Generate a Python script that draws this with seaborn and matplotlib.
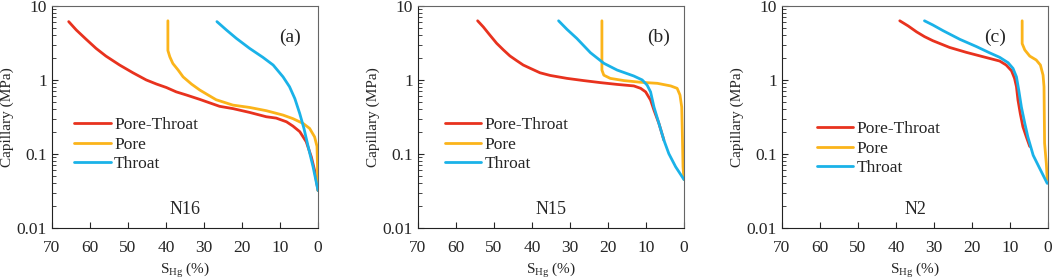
import matplotlib
matplotlib.use('Agg')

import matplotlib.pyplot as plt
import pandas as pd
import seaborn as sns

# saturation (%) and capillary pressure (MPa)
n16_pt_s = [65.6, 63.6, 61.0, 58.4, 55.8, 52.2, 48.7, 45.2, 42.5, 39.9, 37.3, 34.6, 31.1, 28.5, 25.9, 22.4, 18.0, 13.6, 11.0, 8.3, 6.6, 4.8, 3.1, 1.75, 0.9, 0.0]
n16_pt_p = [6.14, 4.73, 3.54, 2.67, 2.10, 1.59, 1.25, 1.0, 0.88, 0.79, 0.69, 0.625, 0.546, 0.49, 0.44, 0.41, 0.364, 0.318, 0.305, 0.272, 0.238, 0.20, 0.146, 0.091, 0.06, 0.032]
n16_pore_s = [39.5, 39.5, 39.0, 38.2, 36.8, 35.5, 33.3, 31.1, 28.9, 26.8, 22.4, 18.0, 13.6, 9.2, 6.6, 3.9, 2.2, 0.9, 0.26, 0.0]
n16_pore_p = [6.3, 2.5, 2.06, 1.67, 1.36, 1.1, 0.88, 0.73, 0.625, 0.54, 0.457, 0.425, 0.384, 0.335, 0.30, 0.258, 0.221, 0.17, 0.126, 0.032]
n16_throat_s = [26.6, 24.1, 21.5, 18.0, 14.5, 11.8, 9.2, 7.5, 6.1, 4.8, 3.7, 2.6, 1.3, 0.0]
n16_throat_p = [6.14, 4.73, 3.65, 2.67, 2.02, 1.59, 1.1, 0.81, 0.56, 0.35, 0.221, 0.126, 0.067, 0.032]

n15_pt_s = [54.3, 52.8, 51.1, 49.3, 47.5, 45.8, 44.0, 42.3, 40.5, 37.9, 35.2, 30.8, 26.4, 22.0, 17.6, 13.2, 11.4, 10.1, 8.8, 7.9, 6.6, 5.3]
n15_pt_p = [6.3, 5.2, 4.05, 3.13, 2.54, 2.11, 1.82, 1.59, 1.44, 1.25, 1.15, 1.05, 0.98, 0.92, 0.87, 0.83, 0.77, 0.69, 0.535, 0.39, 0.258, 0.154]
n15_pore_s = [21.6, 21.6, 21.1, 19.4, 15.8, 11.4, 7.0, 3.5, 1.8, 1.06, 0.6, 0.44, 0.26, 0.0]
n15_pore_p = [6.3, 1.36, 1.16, 1.05, 0.98, 0.93, 0.90, 0.83, 0.77, 0.625, 0.43, 0.19, 0.067, 0.045]
n15_throat_s = [33.0, 30.8, 28.2, 24.6, 21.1, 17.6, 13.2, 11.0, 9.7, 8.8, 7.9, 6.6, 5.3, 4.0, 2.2, 0.0]
n15_throat_p = [6.3, 4.83, 3.64, 2.33, 1.68, 1.36, 1.13, 1.0, 0.85, 0.69, 0.43, 0.258, 0.154, 0.101, 0.067, 0.045]

n2_pt_s = [39.0, 36.8, 34.6, 32.5, 30.3, 25.9, 21.5, 17.1, 12.7, 11.0, 9.6, 8.8, 8.3, 7.9, 7.3, 6.6, 5.7, 4.8]
n2_pt_p = [6.3, 5.37, 4.47, 3.85, 3.39, 2.75, 2.36, 2.06, 1.80, 1.59, 1.33, 1.05, 0.81, 0.535, 0.353, 0.233, 0.17, 0.126]
n2_pore_s = [6.8, 6.8, 6.1, 4.8, 3.1, 2.0, 1.3, 1.05, 0.9, 0.44, 0.2]
n2_pore_p = [6.3, 3.1, 2.54, 2.1, 1.86, 1.59, 1.16, 0.81, 0.14, 0.074, 0.045]
n2_throat_s = [32.5, 30.3, 27.6, 23.2, 18.8, 15.4, 12.7, 10.5, 9.2, 8.3, 7.7, 7.0, 6.1, 5.3, 3.9, 2.2, 0.2]
n2_throat_p = [6.3, 5.53, 4.63, 3.54, 2.82, 2.33, 2.02, 1.71, 1.43, 1.1, 0.73, 0.43, 0.258, 0.17, 0.096, 0.064, 0.04]

samples = ['N16', 'N15', 'N2']
tags = ['(a)', '(b)', '(c)']
series = ['Pore-Throat', 'Pore', 'Throat']
colors = ['#e8321e', '#fbb41a', '#1ab2e8']

curves = {
    'N16': [(n16_pt_s, n16_pt_p), (n16_pore_s, n16_pore_p), (n16_throat_s, n16_throat_p)],
    'N15': [(n15_pt_s, n15_pt_p), (n15_pore_s, n15_pore_p), (n15_throat_s, n15_throat_p)],
    'N2': [(n2_pt_s, n2_pt_p), (n2_pore_s, n2_pore_p), (n2_throat_s, n2_throat_p)],
}


def main():
    sns.set_style('ticks')
    plt.rcParams['font.family'] = ['Liberation Serif', 'DejaVu Serif']
    plt.rcParams['mathtext.fontset'] = 'custom'
    plt.rcParams['mathtext.rm'] = 'Liberation Serif'
    plt.rcParams['mathtext.it'] = 'Liberation Serif:italic'

    fig = plt.figure(figsize = (10.52, 2.79), dpi = 100)
    lefts = [0.0494, 0.3973, 0.7433]
    legend_pos = [(0.083, 0.375), (0.10, 0.375), (0.13, 0.357)]
    tag_x = [0.895, 0.906, 0.80]

    for i, name in enumerate(samples):
        ax = fig.add_axes([lefts[i], 0.183, 0.2529, 0.7957])

        frames = []
        for label, (s, p) in zip(series, curves[name]):
            frames.append(pd.DataFrame({'s': s, 'p': p, 'kind': label}))
        df = pd.concat(frames, ignore_index = True)

        sns.lineplot(data = df, x = 's', y = 'p', hue = 'kind', palette = colors,
                     hue_order = series, sort = False, estimator = None, units = 'kind',
                     linewidth = 2, ax = ax)

        ax.set_yscale('log')
        ax.set_xlim(70, 0)
        ax.set_ylim(0.01, 10)
        ax.set_xticks([70, 60, 50, 40, 30, 20, 10, 0])
        ax.set_yticks([0.01, 0.1, 1, 10])
        ax.set_yticklabels(['0.01', '0.1', '1', '10'])
        ax.tick_params(direction = 'in', labelsize = 12.5, length = 4, width = 0.8)
        ax.tick_params(axis = 'x', pad = 9)
        ax.tick_params(which = 'minor', direction = 'in', length = 3, width = 0.6)
        ax.tick_params(axis = 'x', which = 'minor', bottom = False)

        for side in ['left', 'bottom']:
            ax.spines[side].set_color('#222222')
        for side in ['top', 'right']:
            ax.spines[side].set_color('#666666')

        ax.set_xlabel('S$_\\mathrm{Hg}$ (%)', fontsize = 11, labelpad = 3)
        ax.set_ylabel('Capillary (MPa)', fontsize = 11, labelpad = 2)

        ax.text(tag_x[i], 0.86, tags[i], transform = ax.transAxes, fontsize = 14, ha = 'center', va = 'center')
        ax.text(0.5, 0.085, name, transform = ax.transAxes, fontsize = 13, ha = 'center', va = 'center')

        leg = ax.legend(loc = 'center left', bbox_to_anchor = legend_pos[i], frameon = False,
                        fontsize = 12.5, handlelength = 2.1, handletextpad = 0.2, labelspacing = 0.2,
                        borderaxespad = 0, borderpad = 0)
        for line in leg.get_lines():
            line.set_linewidth(2)

    fig.savefig('out.png', dpi = 100)


if __name__ == '__main__':
    main()
